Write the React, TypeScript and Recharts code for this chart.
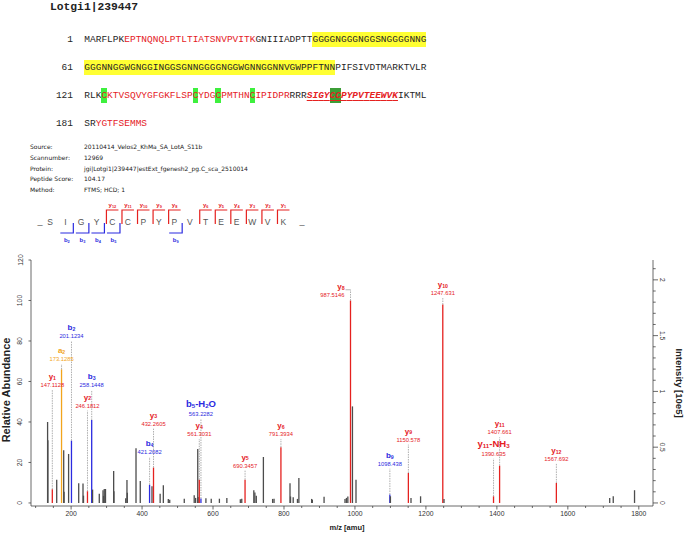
import React from "react";
import { Bar, ComposedChart, ReferenceLine, Scatter, XAxis, YAxis } from "recharts";

const RED = "#e5211f";
const BLUE = "#2b2be0";
const ORANGE = "#f2a51c";
const PEAK_GREY = "#4c4c4c";
const AXIS = "#444";

// protein coverage
const proteinId = "Lotgi1|239447";
const lineStarts = [1, 61, 121, 181];
const sequenceLines = [
  "MARFLPKEPTNQNQLPTLTIATSNVPVITKGNIIIADPTTGGGGNGGGNGGSNGGGGNNG",
  "GGGNNGGWGNGGINGGSGNNGGGGNGGWGNNGGNNVGWPPFTNNPIFSIVDTMARKTVLR",
  "RLKCKTVSQVYGFGKFLSPCYDGCPMTHNCIPIDPRRRRSIGYCCPYPVTEEWVKIKTML",
  "SRYGTFSEMMS",
];
const coveredRanges: [number, number][] = [[8, 30], [124, 156], [160, 175], [183, 191]];
const glyRichRanges: [number, number][] = [[41, 104]];
const cysSites = [124, 140, 144, 150];
const peptideRange: [number, number] = [160, 175];
const peptideCysSites = [164, 165];

// search metadata
const metaLabels = ["Source:", "Scannumber:", "Protein:", "Peptide Score:", "Method:"];
const metaValues = [
  "20110414_Velos2_KhMa_SA_LotA_S11b",
  "12969",
  "jgi|Lotgi1|239447|estExt_fgenesh2_pg.C_sca_2510014",
  "104.17",
  "FTMS; HCD; 1",
];

// fragment ladder
const peptideSeq = "SIGYCCPYPVTEEWVK";
const yLadder = [12, 11, 10, 9, 8, 6, 5, 4, 3, 2, 1];
const bLadder = [2, 3, 4, 5, 9];

// spectrum peaks (m/z, relative abundance, assigned ion)
const peakMz = [
  133.8, 134.6, 147.1, 159.5, 173.1, 179.2, 180.2, 193.0, 201.1, 221.5,
  233.6, 235.0, 246.2, 258.1, 260.6, 279.5, 290.0, 291.5, 293.5, 297.0,
  320.0, 320.8, 354.0, 357.5, 358.5, 383.0, 395.0, 421.2, 428.0, 432.3,
  451.0, 460.0, 474.0, 478.0, 519.0, 547.0, 551.0, 557.0, 558.0, 561.3,
  566.0, 580.0, 595.0, 618.0, 639.0, 677.0, 681.0, 690.3, 715.0, 718.0,
  722.0, 742.0, 768.0, 772.0, 791.4, 817.0, 818.5, 826.0, 838.0, 842.0,
  878.0, 880.0, 913.0, 972.0, 976.0, 980.0, 987.5, 993.0, 1003.0, 1098.4,
  1100.0, 1150.6, 1158.0, 1185.0, 1247.6, 1251.0, 1390.6, 1407.7, 1567.7, 1718.0,
  1728.0, 1788.0,
];
const peakRel = [
  40, 31, 6.8, 11.5, 66, 26, 5.5, 24.2, 30.8, 9.7,
  9.6, 3.6, 5.8, 41, 6.6, 4.6, 6.3, 3.5, 6.9, 6.9,
  15.8, 5.8, 2.3, 11.3, 5, 27, 10.8, 9, 8.2, 17.5,
  4.6, 8.8, 2, 1.6, 2.1, 3.8, 2.5, 26.7, 3, 11.5,
  2.2, 2.3, 2.1, 2.1, 2.5, 1.8, 2.1, 11.5, 6.3, 5.2,
  3.6, 22.7, 2, 2.1, 27.5, 9.7, 3.2, 2.8, 2, 12.3,
  2, 1.6, 3.1, 2, 2.5, 3.2, 100, 47.7, 11.5, 4.2,
  3.3, 14.8, 2.5, 3.3, 98, 2, 3.3, 18.4, 9.9, 2.5,
  3.3, 6.3,
];
const peakIon = [
  "", "", "y1", "", "a2", "", "", "", "b2", "",
  "", "", "y2", "b3", "", "", "", "", "", "",
  "", "", "", "", "", "", "", "b4", "", "y3",
  "", "", "", "", "", "", "", "", "", "y4",
  "b5-H2O", "", "", "", "", "", "", "y5", "", "",
  "", "", "", "", "y6", "", "", "", "", "",
  "", "", "", "", "", "", "y8", "", "", "b9",
  "", "y9", "", "", "y10", "", "y11-NH3", "y11", "y12", "",
  "", "",
];

// peak annotations
const annoIon = ["y1", "a2", "b2", "y2", "b3", "b4", "y3", "y4", "b5-H2O", "y5", "y6", "y8", "b9", "y9", "y10", "y11-NH3", "y11", "y12"];
const annoMzText = ["147.1128", "173.1285", "201.1234", "246.1812", "258.1448", "421.2082", "432.2605", "561.3031", "563.2282", "690.3457", "791.3934", "987.5146", "1098.438", "1150.578", "1247.631", "1390.635", "1407.661", "1567.692"];
const annoLevel = [55.9, 68.6, 80.1, 45.6, 55.6, 22.7, 36.7, 31.6, 41.6, 16, 31.6, 105.3, 16.9, 28.8, 101.2, 21.9, 32.4, 19.3];

const baseIntensity = 1.815; // x10e5 at 100 %
const xMajorTicks = [200, 400, 600, 800, 1000, 1200, 1400, 1600, 1800];
const xTicks = Array.from({ length: 35 }, (_, i) => 100 + i * 50);
const relTicks = [0, 20, 40, 60, 80, 100, 120];
const intMajorTicks = [0, 0.5, 1, 1.5, 2];
const intTicks = Array.from({ length: 22 }, (_, i) => i / 10);

const peakData = peakMz.map((mz, i) => ({ mz, rel: peakRel[i], ion: peakIon[i] }));
const annoData = annoIon.map((ion, i) => ({
  ion,
  text: annoMzText[i],
  level: annoLevel[i],
  mz: peakMz[peakIon.indexOf(ion)],
  peak: peakRel[peakIon.indexOf(ion)],
}));

function ionColor(ion: string) {
  if (!ion) return PEAK_GREY;
  if (ion[0] === "y") return RED;
  if (ion[0] === "b") return BLUE;
  return ORANGE;
}

function inRanges(pos: number, ranges: [number, number][]) {
  return ranges.some(([a, b]) => pos >= a && pos <= b);
}

function ionTspans(ion: string, size: number) {
  const parts = ion.match(/\d+|\D+/g) || [];
  let low = false;
  return parts.map((p, i) => {
    const num = /\d/.test(p);
    const dy = num ? (low ? 0 : size * 0.22) : low ? -size * 0.22 : 0;
    low = num;
    return (
      <tspan key={i} fontSize={num ? size * 0.65 : size} dy={dy}>
        {p}
      </tspan>
    );
  });
}

function residueStyle(pos: number): React.CSSProperties {
  const s: React.CSSProperties = { padding: "1.6px 0" };
  if (inRanges(pos, coveredRanges)) s.color = RED;
  if (inRanges(pos, glyRichRanges)) s.background = "#ffff33";
  if (cysSites.includes(pos)) s.background = "#3ef03e";
  if (pos >= peptideRange[0] && pos <= peptideRange[1]) {
    s.fontWeight = "bold";
    s.fontStyle = "italic";
    s.textDecoration = "underline";
    s.textUnderlineOffset = "2px";
  }
  if (peptideCysSites.includes(pos)) s.background = "#3c9e37";
  return s;
}

function PeakShape(props: any) {
  const { x, y, width, height, payload } = props;
  const cx = x + width / 2;
  return (
    <line x1={cx} x2={cx} y1={y} y2={y + height} stroke={ionColor(payload.ion)} strokeWidth={1.3} />
  );
}

function AnnoShape(props: any) {
  const { cx, cy, payload } = props;
  const c = ionColor(payload.ion);
  const long = payload.ion.includes("-");
  const nameSize = long ? 9.5 : 8;
  if (payload.ion === "y8") {
    return (
      <g>
        <line x1={cx - 5} x2={cx} y1={cy} y2={cy} stroke="#999" strokeWidth={0.7} />
        <text x={cx - 6} y={cy - 4} textAnchor="end" dominantBaseline="central" fontWeight="bold" fill={c} fontSize={nameSize}>
          {ionTspans(payload.ion, nameSize)}
        </text>
        <text x={cx - 6} y={cy + 5} textAnchor="end" dominantBaseline="central" fill={c} fontSize={5.8}>
          {payload.text}
        </text>
      </g>
    );
  }
  return (
    <g>
      <text x={cx} y={cy - (long ? 16 : 14)} textAnchor="middle" dominantBaseline="central" fontWeight="bold" fill={c} fontSize={nameSize}>
        {ionTspans(payload.ion, nameSize)}
      </text>
      <text x={cx} y={cy - 5} textAnchor="middle" dominantBaseline="central" fill={c} fontSize={5.8}>
        {payload.text}
      </text>
    </g>
  );
}

function XTick(props: any) {
  const { x, y, payload } = props;
  const major = xMajorTicks.includes(payload.value);
  return (
    <g>
      <line x1={x} x2={x} y1={y} y2={y + (major ? 3.5 : 2)} stroke={AXIS} strokeWidth={0.8} />
      {major && (
        <text x={x} y={y + 7.5} textAnchor="middle" dominantBaseline="central" fontSize={6.8} fill="#333">
          {payload.value}
        </text>
      )}
    </g>
  );
}

function RelTick(props: any) {
  const { x, y, payload } = props;
  const tx = x - 11;
  return (
    <g>
      <line x1={x - 2.5} x2={x} y1={y} y2={y} stroke={AXIS} strokeWidth={0.8} />
      <text x={tx} y={y} transform={`rotate(-90 ${tx} ${y})`} textAnchor="middle" dominantBaseline="central" fontSize={6.8} fill="#333">
        {payload.value}
      </text>
    </g>
  );
}

function IntTick(props: any) {
  const { x, y, payload } = props;
  const major = intMajorTicks.includes(payload.value);
  const tx = x + 9;
  return (
    <g>
      <line x1={x} x2={x + (major ? 5 : 2.7)} y1={y} y2={y} stroke={AXIS} strokeWidth={0.8} />
      {major && (
        <text x={tx} y={y} transform={`rotate(90 ${tx} ${y})`} textAnchor="middle" dominantBaseline="central" fontSize={6.8} fill="#333">
          {payload.value}
        </text>
      )}
    </g>
  );
}

function Ladder() {
  const step = 15.55;
  const x0 = 50;
  const n = peptideSeq.length;
  return (
    <svg width={330} height={250} style={{ position: "absolute", left: 0, top: 0 }}>
      <g fontFamily="Liberation Sans, Arial, sans-serif">
        <text x={40} y={221} textAnchor="middle" dominantBaseline="central" fontSize={9} fill="#555">_</text>
        <text x={302} y={221} textAnchor="middle" dominantBaseline="central" fontSize={9} fill="#555">_</text>
        {peptideSeq.split("").map((aa, i) => (
          <text key={i} x={x0 + i * step} y={222} textAnchor="middle" dominantBaseline="central" fontSize={8.5} fill="#555">
            {aa}
          </text>
        ))}
        {yLadder.map((k) => {
          const x = x0 + (n - k - 0.5) * step + 2;
          return (
            <g key={"y" + k}>
              <polyline points={`${x},224 ${x},210 ${x + 12},210`} fill="none" stroke={RED} strokeWidth={1.2} />
              <text x={x + 6} y={205} textAnchor="middle" dominantBaseline="central" fontSize={6} fontWeight="bold" fill={RED}>
                {ionTspans("y" + k, 6)}
              </text>
            </g>
          );
        })}
        {bLadder.map((k) => {
          const x = x0 + (k - 0.5) * step;
          return (
            <g key={"b" + k}>
              <polyline points={`${x},223 ${x},233 ${x - 13},233`} fill="none" stroke={BLUE} strokeWidth={1.2} />
              <text x={x - 6.5} y={240} textAnchor="middle" dominantBaseline="central" fontSize={6} fontWeight="bold" fill={BLUE}>
                {ionTspans("b" + k, 6)}
              </text>
            </g>
          );
        })}
      </g>
    </svg>
  );
}

export default function App() {
  const mono = "'Liberation Mono', 'Courier New', monospace";
  return (
    <div style={{ position: "relative", width: 685, height: 533, background: "#fff", fontFamily: "Liberation Sans, Arial, sans-serif", overflow: "hidden" }}>
      <style>{"body{margin:0}"}</style>
      <div style={{ position: "absolute", left: 50, top: 0, fontFamily: mono, fontSize: 11.3, fontWeight: "bold", color: "#222", lineHeight: "14px" }}>
        {proteinId}
      </div>
      {sequenceLines.map((line, li) => (
        <div key={li} style={{ position: "absolute", left: 0, top: 33 + li * 28, width: 440, height: 14, lineHeight: "14px", fontFamily: mono, fontSize: 9.5, color: "#262626", whiteSpace: "pre" }}>
          <span style={{ position: "absolute", left: 13, width: 60, textAlign: "right" }}>{lineStarts[li]}</span>
          <span style={{ position: "absolute", left: 84.3 }}>
            {line.split("").map((aa, i) => (
              <span key={i} style={residueStyle(lineStarts[li] + i)}>
                {aa}
              </span>
            ))}
          </span>
        </div>
      ))}
      {metaLabels.map((lab, i) => (
        <div key={lab} style={{ position: "absolute", top: 142 + i * 10.8, left: 30, fontFamily: "DejaVu Sans, Verdana, sans-serif", fontSize: 6, lineHeight: "10px", color: "#222", whiteSpace: "nowrap" }}>
          {lab}
          <span style={{ position: "absolute", left: 54 }}>{metaValues[i]}</span>
        </div>
      ))}
      <Ladder />
      <div style={{ position: "absolute", left: 0, top: 0 }}>
        <ComposedChart width={685} height={533} data={peakData} margin={{ top: 260, right: 0, bottom: 0, left: 0 }}>
          <XAxis
            type="number"
            dataKey="mz"
            domain={[87, 1840]}
            ticks={xTicks}
            interval={0}
            tick={XTick}
            tickSize={0}
            tickMargin={0}
            tickLine={false}
            axisLine={{ stroke: AXIS, strokeWidth: 0.8 }}
            height={27}
            allowDataOverflow
          />
          <YAxis
            yAxisId="rel"
            domain={[-1.5, 120]}
            ticks={relTicks}
            interval={0}
            width={31}
            tick={RelTick}
            tickSize={0}
            tickMargin={0}
            tickLine={false}
            axisLine={{ stroke: AXIS, strokeWidth: 0.8 }}
            allowDataOverflow
          />
          <YAxis
            yAxisId="int"
            orientation="right"
            domain={[(-1.5 * baseIntensity) / 100, (120 * baseIntensity) / 100]}
            ticks={intTicks}
            interval={0}
            width={32}
            tick={IntTick}
            tickSize={0}
            tickMargin={0}
            tickLine={false}
            axisLine={{ stroke: AXIS, strokeWidth: 0.8 }}
            allowDataOverflow
          />
          <Bar yAxisId="rel" dataKey="rel" barSize={1} shape={PeakShape} isAnimationActive={false} />
          {annoData.map((a) => (
            <ReferenceLine
              key={a.ion}
              yAxisId="rel"
              segment={[
                { x: a.mz, y: a.peak },
                { x: a.mz, y: a.level },
              ]}
              stroke="#999"
              strokeWidth={0.8}
              strokeDasharray="1.5 1"
            />
          ))}
          <Scatter yAxisId="rel" data={annoData} dataKey="level" shape={AnnoShape} isAnimationActive={false} />
        </ComposedChart>
      </div>
      <div style={{ position: "absolute", left: 6, top: 390, transform: "translate(-50%, -50%) rotate(-90deg)", fontSize: 11, fontWeight: "bold", color: "#222", whiteSpace: "nowrap" }}>
        Relative Abundance
      </div>
      <div style={{ position: "absolute", left: 679, top: 383, transform: "translate(-50%, -50%) rotate(90deg)", fontSize: 9.5, fontWeight: "bold", color: "#222", whiteSpace: "nowrap" }}>
        Intensity [10e5]
      </div>
      <div style={{ position: "absolute", left: 347, top: 527, transform: "translate(-50%, -50%)", fontSize: 7.5, fontWeight: "bold", color: "#222", whiteSpace: "nowrap" }}>
        m/z [amu]
      </div>
    </div>
  );
}
